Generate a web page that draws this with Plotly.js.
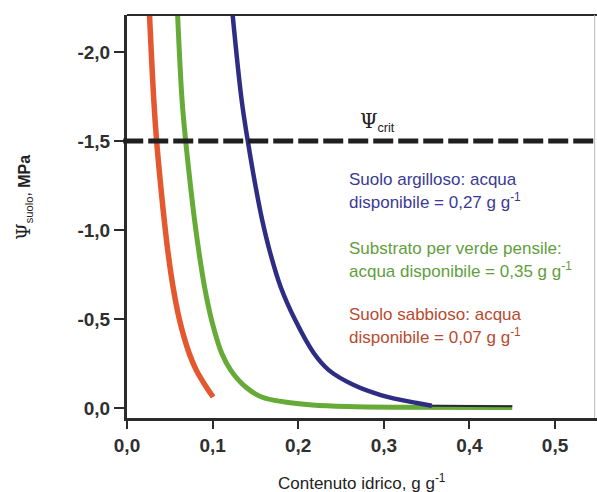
<!DOCTYPE html>
<html>
<head>
<meta charset="utf-8">
<script src="https://cdn.plot.ly/plotly-3.0.1.min.js"></script>
<style>html,body{margin:0;padding:0;background:#fff;}#chart{width:597px;height:492px;}</style>
</head>
<body>
<div id="chart"></div>
<script>
// Sandy soil (red)
const sandX = [0.0263, 0.0313, 0.0345, 0.0395, 0.0435, 0.0480, 0.0538, 0.0614, 0.0725, 0.0809, 0.0926, 0.1006];
const sandY = [-2.208, -1.730, -1.506, -1.242, -1.056, -0.871, -0.680, -0.494, -0.309, -0.213, -0.118, -0.062];
// Green roof substrate (green)
const substrX = [0.0591, 0.0643, 0.0684, 0.0743, 0.0789, 0.0842, 0.0906, 0.0988, 0.1105, 0.1211, 0.1386, 0.1573, 0.1842, 0.2164, 0.2573, 0.3158, 0.450];
const substrY = [-2.208, -1.730, -1.506, -1.242, -1.056, -0.871, -0.680, -0.494, -0.309, -0.213, -0.118, -0.062, -0.034, -0.017, -0.008, -0.004, -0.003];
// Clay soil (blue)
const clayX = [0.1234, 0.1339, 0.1409, 0.1503, 0.1579, 0.1673, 0.1795, 0.1965, 0.2181, 0.2357, 0.2649, 0.2965, 0.3386, 0.3561];
const clayY = [-2.208, -1.730, -1.506, -1.242, -1.056, -0.871, -0.680, -0.494, -0.309, -0.213, -0.129, -0.073, -0.028, -0.013];
// Clay soil tail (thin dark line over the green one)
const clayTailX = [0.3561, 0.40, 0.45];
const clayTailY = [-0.013, -0.011, -0.010];
// Critical potential
const psiCrit = -1.5;
// Axis ticks
const xTicks = [0, 0.1, 0.2, 0.3, 0.4, 0.5];
const xTickText = ["0,0", "0,1", "0,2", "0,3", "0,4", "0,5"];
const yTicks = [-2.0, -1.5, -1.0, -0.5, 0.0];
const yTickText = ["-2,0", "-1,5", "-1,0", "-0,5", "0,0"];
// Text
const blueLines = ["Suolo argilloso: acqua", "disponibile = 0,27 g g<sup>-1</sup>"];
const greenLines = ["Substrato per verde pensile:", "acqua disponibile = 0,35 g g<sup>-1</sup>"];
const redLines = ["Suolo sabbioso: acqua", "disponibile = 0,07 g g<sup>-1</sup>"];

const SANS = '"Liberation Sans", Arial, sans-serif';

const traces = [
  {x: substrX, y: substrY, mode: 'lines', line: {color: '#66aa38', width: 5, shape: 'spline', smoothing: 1}, hoverinfo: 'skip'},
  {x: sandX, y: sandY, mode: 'lines', line: {color: '#e4582f', width: 5.5, shape: 'spline', smoothing: 1}, hoverinfo: 'skip'},
  {x: clayX, y: clayY, mode: 'lines', line: {color: '#2e2d84', width: 4.5, shape: 'spline', smoothing: 1}, hoverinfo: 'skip'},
  {x: clayTailX, y: clayTailY, mode: 'lines', line: {color: '#2a2a3a', width: 2, shape: 'spline'}, hoverinfo: 'skip'}
];

function lineAnn(text, y, color) {
  return {x: 0.2567, y: y, xref: 'x', yref: 'y', xanchor: 'left', yanchor: 'middle', text: text, showarrow: false,
    font: {family: SANS, size: 17, color: color}};
}

const annotations = [
  lineAnn(blueLines[0], -1.286, '#3b3a92'),
  lineAnn(blueLines[1], -1.163, '#3b3a92'),
  lineAnn(greenLines[0], -0.898, '#5f9e3e'),
  lineAnn(greenLines[1], -0.775, '#5f9e3e'),
  lineAnn(redLines[0], -0.528, '#b94a30'),
  lineAnn(redLines[1], -0.405, '#b94a30'),
  {x: 0.293, y: -1.607, xref: 'x', yref: 'y', xanchor: 'center', yanchor: 'middle', showarrow: false,
   text: '<span style="font-family:\'DejaVu Serif\', serif;font-size:20px">Ψ</span><sub>crit</sub>',
   font: {family: SANS, size: 18, color: '#222'}},
  {x: -0.219, y: 0.546, xref: 'paper', yref: 'paper', xanchor: 'center', yanchor: 'middle', showarrow: false, textangle: -90,
   text: '<span style="font-family:\'DejaVu Serif\', serif;font-size:19px">Ψ</span><sub>suolo</sub>, <b>MPa</b>',
   font: {family: SANS, size: 16, color: '#222'}},
  {x: 0.5, y: -0.160, xref: 'paper', yref: 'paper', xanchor: 'center', yanchor: 'middle', showarrow: false,
   text: 'Contenuto idrico, g g<sup>-1</sup>',
   font: {family: SANS, size: 17, color: '#222'}}
];

const layout = {
  width: 597, height: 492,
  margin: {l: 127, r: 0, t: 15, b: 74},
  paper_bgcolor: '#fff', plot_bgcolor: '#fff',
  showlegend: false,
  xaxis: {
    range: [0, 0.549], tickvals: xTicks, ticktext: xTickText,
    showgrid: false, zeroline: false,
    showline: true, linewidth: 3, linecolor: '#2b2b2b',
    ticks: 'outside', ticklen: 8, tickwidth: 2, tickcolor: '#2b2b2b',
    tickfont: {family: SANS, size: 19, color: '#2f2f2f', weight: 'bold'}
  },
  yaxis: {
    range: [0.056, -2.208], tickvals: yTicks, ticktext: yTickText,
    showgrid: false, zeroline: false,
    showline: true, linewidth: 3, linecolor: '#2b2b2b',
    ticks: 'outside', ticklen: 10, tickwidth: 2, tickcolor: '#2b2b2b',
    tickfont: {family: SANS, size: 19, color: '#2f2f2f', weight: 'bold'}
  },
  shapes: [
    {type: 'line', xref: 'paper', yref: 'y', x0: -0.008, x1: 1, y0: psiCrit, y1: psiCrit,
     line: {color: '#1f1f1f', width: 5, dash: '20px,5px'}},
    {type: 'line', xref: 'paper', yref: 'paper', x0: 0, x1: 1, y0: 1, y1: 1, line: {color: '#2b2b2b', width: 2}},
    {type: 'line', xref: 'paper', yref: 'paper', x0: 0.995, x1: 0.995, y0: 0, y1: 1, line: {color: '#bbbbbb', width: 1}}
  ],
  annotations: annotations
};

Plotly.newPlot('chart', traces, layout, {displayModeBar: false, staticPlot: true});
</script>
</body>
</html>
